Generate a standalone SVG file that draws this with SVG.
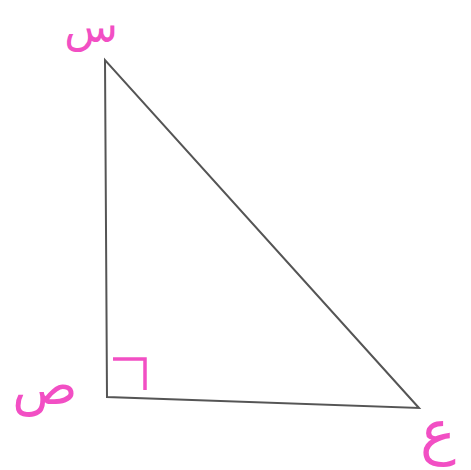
<svg xmlns="http://www.w3.org/2000/svg" width="471" height="470" viewBox="0 0 471 470">
<style>
.lbl{font-family:"DejaVu Sans",sans-serif;font-size:44px;fill:#f24fc4}
.edge{stroke:#555;stroke-width:2;fill:none;stroke-linejoin:miter}
</style>
<rect width="471" height="470" fill="#fff"/>
<g id="connectors">
<polygon class="edge" points="105,60 107,397 419,408"/>
<polyline points="113,359 145,359 145,390" fill="none" stroke="#f24fc4" stroke-width="3.5"/>
</g>
<g id="node-s"><text class="lbl" x="91" y="42" text-anchor="middle">س</text></g>
<g id="node-sad"><text class="lbl" x="45" y="404" text-anchor="middle" style="font-size:54px">ص</text></g>
<g id="node-ain"><text class="lbl" x="438" y="452" text-anchor="middle" style="font-size:60px">ع</text></g>
</svg>
